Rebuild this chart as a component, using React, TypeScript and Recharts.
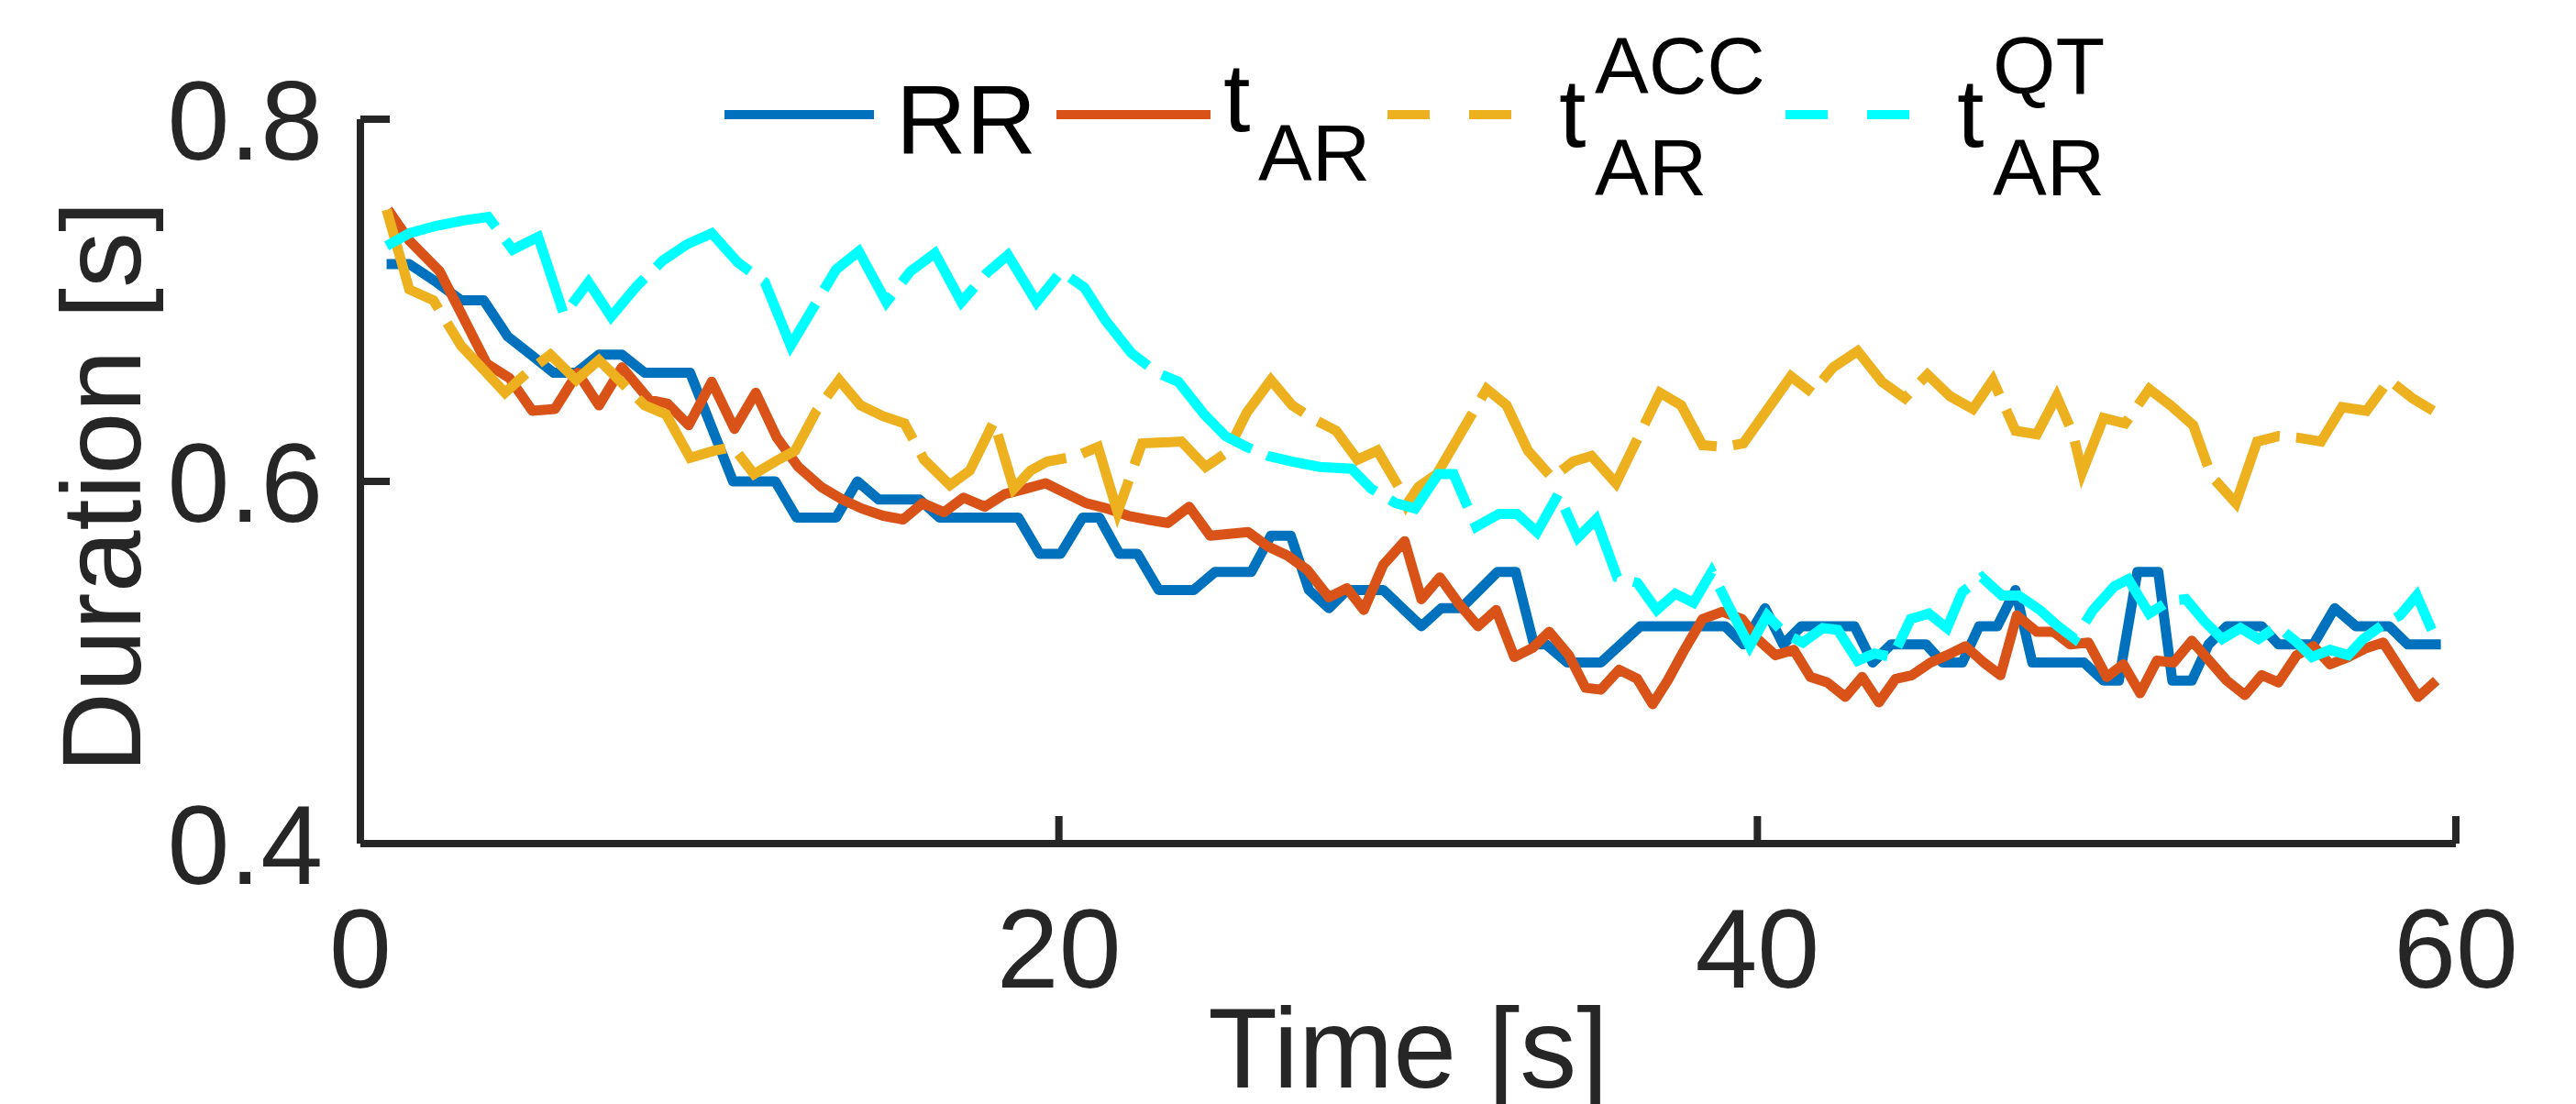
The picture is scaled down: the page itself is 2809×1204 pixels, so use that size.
import React from 'react';
import { LineChart, Line, XAxis, YAxis } from 'recharts';

// beat-to-beat durations (time in s, duration in s)
const rrTime = [0.75, 1.4, 2.18, 2.88, 3.53, 4.22, 4.88, 5.53, 6.18, 6.83, 7.49, 8.14, 9.44, 10.67, 11.88, 12.49, 13.62, 14.23, 14.84, 16.01, 16.58, 18.84, 19.45, 20.05, 20.68, 21.16, 21.73, 22.25, 22.86, 23.86, 24.47, 25.51, 26.07, 26.64, 27.16, 27.73, 28.25, 29.29, 30.38, 30.95, 31.52, 32.56, 33.08, 33.6, 33.95, 34.56, 35.52, 36.65, 39.08, 39.6, 40.22, 40.74, 41.26, 42.78, 43.3, 43.83, 44.83, 45.3, 45.87, 46.35, 46.87, 47.39, 47.87, 49.35, 49.91, 50.35, 50.88, 51.48, 51.88, 52.44, 52.92, 53.44, 54.44, 54.92, 55.92, 56.53, 57.14, 58.09, 58.62, 59.57];
const rrValue = [0.72, 0.72, 0.71, 0.7, 0.7, 0.68, 0.67, 0.66, 0.66, 0.67, 0.67, 0.66, 0.66, 0.6, 0.6, 0.58, 0.58, 0.6, 0.59, 0.59, 0.58, 0.58, 0.56, 0.56, 0.58, 0.58, 0.56, 0.56, 0.54, 0.54, 0.55, 0.55, 0.57, 0.57, 0.54, 0.53, 0.54, 0.54, 0.52, 0.53, 0.53, 0.55, 0.55, 0.51, 0.51, 0.5, 0.5, 0.52, 0.52, 0.51, 0.53, 0.51, 0.52, 0.52, 0.5, 0.51, 0.51, 0.5, 0.5, 0.52, 0.52, 0.54, 0.5, 0.5, 0.49, 0.49, 0.55, 0.55, 0.49, 0.49, 0.51, 0.52, 0.52, 0.51, 0.51, 0.53, 0.52, 0.52, 0.51, 0.51];

const arTime = [0.79, 1.4, 2.27, 2.88, 3.62, 4.27, 4.92, 5.57, 6.22, 6.83, 7.49, 8.27, 8.79, 9.4, 10.06, 10.71, 11.32, 11.93, 12.54, 13.19, 13.8, 14.36, 14.97, 15.54, 16.1, 16.71, 17.27, 17.88, 18.45, 19.06, 19.62, 20.25, 20.77, 21.38, 21.99, 22.51, 23.12, 23.73, 24.33, 25.42, 25.99, 26.55, 27.12, 27.73, 28.25, 28.73, 29.29, 29.9, 30.38, 30.91, 31.43, 32.0, 32.52, 33.04, 33.56, 34.04, 34.6, 35.08, 35.52, 36.04, 36.56, 37.0, 37.43, 37.91, 38.43, 39.0, 39.56, 40.0, 40.52, 41.04, 41.52, 42.0, 42.52, 43.0, 43.48, 43.96, 44.43, 44.96, 45.43, 45.96, 46.48, 46.96, 47.43, 48.0, 48.48, 48.96, 49.48, 50.0, 50.48, 50.96, 51.44, 51.92, 52.44, 53.44, 53.96, 54.44, 54.92, 55.44, 55.92, 56.4, 56.92, 57.44, 57.92, 58.92, 59.44];
const arValue = [0.75, 0.733, 0.716, 0.693, 0.665, 0.657, 0.639, 0.64, 0.66, 0.642, 0.663, 0.645, 0.643, 0.631, 0.655, 0.629, 0.649, 0.624, 0.608, 0.597, 0.59, 0.585, 0.581, 0.579, 0.588, 0.583, 0.591, 0.586, 0.593, 0.596, 0.599, 0.593, 0.588, 0.585, 0.581, 0.579, 0.577, 0.586, 0.57, 0.572, 0.564, 0.559, 0.551, 0.536, 0.541, 0.529, 0.554, 0.567, 0.535, 0.547, 0.533, 0.52, 0.529, 0.503, 0.508, 0.517, 0.504, 0.486, 0.485, 0.496, 0.491, 0.477, 0.49, 0.507, 0.524, 0.528, 0.524, 0.513, 0.504, 0.507, 0.492, 0.489, 0.481, 0.492, 0.478, 0.491, 0.493, 0.5, 0.504, 0.509, 0.5, 0.493, 0.526, 0.517, 0.517, 0.51, 0.511, 0.492, 0.499, 0.483, 0.501, 0.5, 0.512, 0.49, 0.482, 0.493, 0.489, 0.504, 0.509, 0.499, 0.503, 0.508, 0.511, 0.481, 0.49];

const accTime = [0.75, 1.4, 2.09, 2.88, 4.14, 4.83, 5.44, 6.18, 6.83, 8.14, 8.75, 9.44, 10.14, 10.67, 11.27, 11.88, 12.45, 13.06, 13.71, 14.32, 14.97, 15.58, 16.14, 16.88, 17.45, 18.14, 18.71, 19.19, 19.67, 20.51, 21.12, 21.68, 22.38, 23.51, 24.2, 24.81, 25.38, 26.07, 26.68, 27.33, 27.94, 28.55, 29.12, 29.73, 29.95, 30.3, 30.82, 32.25, 32.82, 33.43, 34.12, 34.73, 35.25, 35.95, 37.21, 37.82, 38.43, 39.04, 39.6, 40.96, 41.57, 42.17, 42.87, 43.57, 44.22, 44.87, 45.52, 46.17, 46.74, 47.39, 48.0, 48.57, 49.04, 49.3, 49.91, 50.53, 51.22, 51.83, 52.48, 53.0, 53.7, 54.31, 54.92, 55.53, 56.14, 56.74, 57.44, 58.09, 58.75, 59.35];
const accValue = [0.75, 0.706, 0.7, 0.675, 0.649, 0.661, 0.67, 0.656, 0.667, 0.642, 0.637, 0.613, 0.617, 0.619, 0.604, 0.611, 0.617, 0.639, 0.656, 0.642, 0.636, 0.632, 0.612, 0.598, 0.606, 0.633, 0.596, 0.606, 0.611, 0.614, 0.619, 0.583, 0.621, 0.622, 0.608, 0.616, 0.638, 0.656, 0.642, 0.634, 0.628, 0.612, 0.617, 0.597, 0.587, 0.597, 0.604, 0.651, 0.642, 0.617, 0.602, 0.611, 0.614, 0.599, 0.649, 0.642, 0.62, 0.619, 0.621, 0.658, 0.649, 0.663, 0.672, 0.655, 0.646, 0.659, 0.647, 0.64, 0.656, 0.628, 0.626, 0.647, 0.626, 0.605, 0.635, 0.632, 0.651, 0.642, 0.631, 0.603, 0.588, 0.622, 0.625, 0.624, 0.622, 0.641, 0.639, 0.656, 0.646, 0.639];

const qtTime = [0.75, 1.4, 2.14, 2.92, 3.66, 4.36, 5.09, 5.83, 6.53, 7.18, 7.92, 8.66, 9.36, 10.06, 10.8, 11.58, 12.32, 13.62, 14.27, 15.06, 15.75, 16.45, 17.21, 17.93, 18.54, 19.36, 20.07, 20.73, 21.33, 22.07, 22.81, 23.42, 24.16, 24.77, 25.38, 25.99, 26.68, 27.47, 28.38, 28.94, 29.64, 30.2, 30.86, 31.3, 31.95, 32.6, 33.12, 33.69, 34.3, 34.86, 35.38, 35.99, 36.56, 37.12, 37.65, 38.17, 38.69, 39.21, 39.78, 40.28, 40.78, 41.3, 41.87, 42.3, 42.87, 43.35, 43.87, 44.39, 44.91, 45.43, 45.87, 46.43, 47.0, 47.48, 48.09, 48.61, 49.09, 49.61, 50.22, 50.62, 51.22, 51.79, 52.27, 52.79, 53.31, 53.83, 54.35, 54.88, 55.4, 55.88, 56.4, 56.92, 57.35, 57.92, 58.4, 58.88, 59.31];
const qtValue = [0.73, 0.737, 0.741, 0.744, 0.746, 0.728, 0.735, 0.692, 0.71, 0.691, 0.708, 0.722, 0.731, 0.737, 0.721, 0.71, 0.675, 0.717, 0.727, 0.699, 0.716, 0.726, 0.699, 0.715, 0.725, 0.699, 0.716, 0.707, 0.689, 0.671, 0.66, 0.655, 0.637, 0.625, 0.619, 0.614, 0.611, 0.608, 0.607, 0.596, 0.588, 0.585, 0.604, 0.604, 0.575, 0.582, 0.582, 0.572, 0.593, 0.569, 0.579, 0.547, 0.544, 0.529, 0.538, 0.533, 0.55, 0.53, 0.509, 0.526, 0.516, 0.511, 0.519, 0.518, 0.501, 0.505, 0.503, 0.524, 0.527, 0.519, 0.539, 0.547, 0.537, 0.537, 0.529, 0.52, 0.513, 0.529, 0.542, 0.546, 0.527, 0.534, 0.535, 0.523, 0.513, 0.519, 0.513, 0.52, 0.512, 0.503, 0.507, 0.504, 0.513, 0.521, 0.526, 0.537, 0.518];

const xTicks = [0, 20, 40, 60];
const yTicks = [0.4, 0.6, 0.8];

const toPoints = (ts: number[], vs: number[]) => ts.map((t, i) => ({ t, v: vs[i] }));

const rrData = toPoints(rrTime, rrValue);
const arData = toPoints(arTime, arValue);
const accData = toPoints(accTime, accValue);
const qtData = toPoints(qtTime, qtValue);

const AXIS = '#262626';
const FONT = '"Liberation Sans", Arial, Helvetica, sans-serif';

const YTick = (props: any) => {
  const { x, y, payload } = props;
  return (
    <g>
      <line x1={x} y1={y} x2={x + 32} y2={y} stroke={AXIS} strokeWidth={8} />
      <text x={x - 41} y={y + 44} textAnchor="end" fontSize={122} fill={AXIS} fontFamily={FONT}>
        {payload.value}
      </text>
    </g>
  );
};

const XTick = (props: any) => {
  const { x, y, payload } = props;
  return (
    <g>
      <line x1={x} y1={y} x2={x} y2={y - 30} stroke={AXIS} strokeWidth={8} />
      <text x={x} y={y + 157} textAnchor="middle" fontSize={122} fill={AXIS} fontFamily={FONT}>
        {payload.value}
      </text>
    </g>
  );
};

const xLabel = (props: any) => {
  const vb = props.viewBox || { x: 393, y: 920, width: 2299, height: 0 };
  return (
    <text x={vb.x + vb.width / 2} y={920 + 266} textAnchor="middle" fontSize={124} fill={AXIS} fontFamily={FONT}>
      Time [s]
    </text>
  );
};

const yLabel = () => {
  const cx = 153;
  const cy = 531;
  return (
    <text
      x={cx}
      y={cy}
      transform={`rotate(-90, ${cx}, ${cy})`}
      textAnchor="middle"
      fontSize={122}
      fill={AXIS}
      fontFamily={FONT}
    >
      Duration [s]
    </text>
  );
};

const Legend = () => (
  <svg
    width={2809}
    height={240}
    style={{ position: 'absolute', left: 0, top: 0, pointerEvents: 'none' }}
    fontFamily={FONT}
  >
    <line x1={790} y1={125} x2={953} y2={125} stroke="#0072BD" strokeWidth={10} />
    <text x={977} y={167} fontSize={106} fill="#000">RR</text>

    <line x1={1152} y1={125} x2={1320} y2={125} stroke="#D95319" strokeWidth={10} />
    <text x={1334} y={143} fontSize={106} fill="#000">t</text>
    <text x={1372} y={197} fontSize={88} fill="#000">AR</text>

    <line x1={1513} y1={125} x2={1650} y2={125} stroke="#EDB120" strokeWidth={10} strokeDasharray="46 43" />
    <text x={1700} y={160} fontSize={106} fill="#000">t</text>
    <text x={1739} y={102} fontSize={88} fill="#000">ACC</text>
    <text x={1739} y={213} fontSize={88} fill="#000">AR</text>

    <line x1={1947} y1={125} x2={2082} y2={125} stroke="#00FFFF" strokeWidth={10} strokeDasharray="46 43" />
    <text x={2134} y={160} fontSize={106} fill="#000">t</text>
    <text x={2173} y={102} fontSize={88} fill="#000">QT</text>
    <text x={2173} y={213} fontSize={88} fill="#000">AR</text>
  </svg>
);

export default function App() {
  return (
    <div style={{ position: 'absolute', left: 0, top: 0, width: 2809, height: 1204, background: '#fff', fontFamily: FONT }}>
      <LineChart width={2809} height={1204} margin={{ top: 130, right: 131, bottom: 274, left: 383 }}>
        <XAxis
          dataKey="t"
          type="number"
          domain={[0, 60]}
          ticks={xTicks}
          height={10}
          tickSize={0}
          tickMargin={0}
          tickLine={false}
          tick={<XTick />}
          axisLine={{ stroke: AXIS, strokeWidth: 8 }}
          allowDataOverflow
          label={xLabel}
        />
        <YAxis
          type="number"
          domain={[0.4, 0.8]}
          ticks={yTicks}
          width={10}
          tickSize={0}
          tickMargin={0}
          tickLine={false}
          tick={<YTick />}
          axisLine={{ stroke: AXIS, strokeWidth: 8 }}
          allowDataOverflow
          label={yLabel}
        />
        <Line data={rrData} dataKey="v" type="linear" stroke="#0072BD" strokeWidth={11} dot={false} activeDot={false} isAnimationActive={false} strokeLinejoin="round" />
        <Line data={arData} dataKey="v" type="linear" stroke="#D95319" strokeWidth={11} dot={false} activeDot={false} isAnimationActive={false} strokeLinejoin="round" />
        <Line data={accData} dataKey="v" type="linear" stroke="#EDB120" strokeWidth={11} strokeDasharray="130 18" dot={false} activeDot={false} isAnimationActive={false} />
        <Line data={qtData} dataKey="v" type="linear" stroke="#00FFFF" strokeWidth={11} strokeDasharray="130 18" dot={false} activeDot={false} isAnimationActive={false} />
      </LineChart>
      <Legend />
    </div>
  );
}
